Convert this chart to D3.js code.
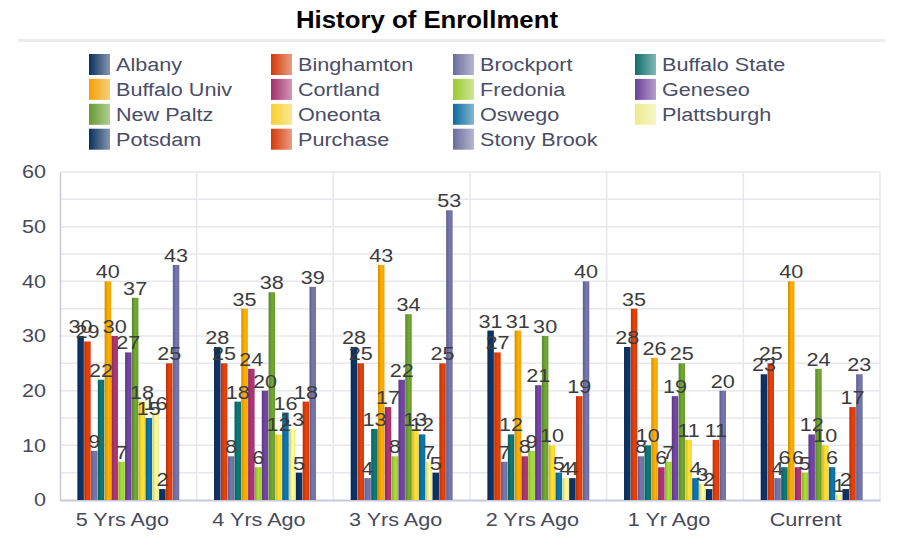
<!DOCTYPE html>
<html>
<head>
<meta charset="utf-8">
<script src="https://cdnjs.cloudflare.com/ajax/libs/d3/7.8.5/d3.min.js"></script>
<style>
  body { margin: 0; background: #fff; }
  svg { font-family: "Liberation Sans", Arial, sans-serif; }
</style>
</head>
<body>
<div class="chart"></div>
<script>
var periods = ["5 Yrs Ago", "4 Yrs Ago", "3 Yrs Ago", "2 Yrs Ago", "1 Yr Ago", "Current"];
var schools = ["Albany", "Binghamton", "Brockport", "Buffalo State", "Buffalo Univ", "Cortland",
  "Fredonia", "Geneseo", "New Paltz", "Oneonta", "Oswego", "Plattsburgh", "Potsdam", "Purchase", "Stony Brook"];
var colors = ["#0b2f5e", "#d43a08", "#6c6c9f", "#0b6f6b", "#f5a000", "#a2306c",
  "#9acb2e", "#6a3f98", "#669a2e", "#f8cf2c", "#0a6d9e", "#eceb8c", "#0b2f5e", "#d43a08", "#6c6c9f"];

// one array per school, in period order
var albany      = [30, 28, 28, 31, 28, 23];
var binghamton  = [29, 25, 25, 27, 35, 25];
var brockport   = [9, 8, 4, 7, 8, 4];
var buffState   = [22, 18, 13, 12, 10, 6];
var buffUniv    = [40, 35, 43, 31, 26, 40];
var cortland    = [30, 24, 17, 8, 6, 6];
var fredonia    = [7, 6, 8, 9, 7, 5];
var geneseo     = [27, 20, 22, 21, 19, 12];
var newPaltz    = [37, 38, 34, 30, 25, 24];
var oneonta     = [18, 12, 13, 10, 11, 10];
var oswego      = [15, 16, 12, 5, 4, 6];
var plattsburgh = [16, 13, 7, 4, 3, 1];
var potsdam     = [2, 5, 5, 4, 2, 2];
var purchase    = [25, 18, 25, 19, 11, 17];
var stonyBrook  = [43, 39, 53, 40, 20, 23];

var yTicks = [0, 10, 20, 30, 40, 50, 60];

var seriesValues = [albany, binghamton, brockport, buffState, buffUniv, cortland, fredonia,
  geneseo, newPaltz, oneonta, oswego, plattsburgh, potsdam, purchase, stonyBrook];

var svgWidth = 901, svgHeight = 537;
var margin = {top: 172, right: 21, bottom: 37, left: 60};
var width = svgWidth - margin.left - margin.right;
var height = svgHeight - margin.top - margin.bottom;

// the reference text is a bit wider than plain Arial, so stretch it sideways
function stretch(sel, k) {
  sel.each(function() {
    var w = this.getComputedTextLength();
    d3.select(this).attr("textLength", w * k).attr("lengthAdjust", "spacingAndGlyphs");
  });
}

var svg = d3.select(".chart").append("svg")
  .attr("width", svgWidth)
  .attr("height", svgHeight);

var defs = svg.append("defs");
colors.forEach(function(c, i) {
  var base = d3.color(c);
  var bar = defs.append("linearGradient").attr("id", "bar" + i)
    .attr("x1", "0").attr("x2", "1").attr("y1", "0").attr("y2", "0");
  bar.append("stop").attr("offset", "0%").attr("stop-color", base.darker(0.4));
  bar.append("stop").attr("offset", "55%").attr("stop-color", base.brighter(0.3));
  bar.append("stop").attr("offset", "100%").attr("stop-color", base);
  var sw = defs.append("linearGradient").attr("id", "sw" + i)
    .attr("x1", "0").attr("x2", "1").attr("y1", "0").attr("y2", "0");
  sw.append("stop").attr("offset", "0%").attr("stop-color", base);
  sw.append("stop").attr("offset", "100%").attr("stop-color", d3.interpolateRgb(base, "#fff")(0.5));
});

// title
svg.append("text")
  .attr("x", 427).attr("y", 28)
  .attr("text-anchor", "middle")
  .attr("textLength", 262).attr("lengthAdjust", "spacingAndGlyphs")
  .style("font-size", "23px").style("font-weight", "bold").style("fill", "#000")
  .text("History of Enrollment");

svg.append("rect")
  .attr("x", 18).attr("y", 39).attr("width", 867).attr("height", 3)
  .attr("fill", "#ebebf0");

// legend
var legend = svg.append("g").attr("class", "legend");
schools.forEach(function(s, i) {
  var col = i % 4, row = Math.floor(i / 4);
  var g = legend.append("g")
    .attr("transform", `translate(${89 + col * 182}, ${54 + row * 24.9})`);
  g.append("rect").attr("width", 21).attr("height", 21).attr("fill", `url(#sw${i})`);
  g.append("text").attr("x", 27).attr("y", 17)
    .style("font-size", "18px").style("fill", "#4a4d66")
    .text(s)
    .call(stretch, 1.2);
});

var chartGroup = svg.append("g")
  .attr("transform", `translate(${margin.left}, ${margin.top})`);

var x0 = d3.scaleBand().domain(periods).range([0, width]).paddingInner(0).paddingOuter(0);
var x1 = d3.scaleBand().domain(schools).range([0, x0.bandwidth()]).paddingOuter(2.55).paddingInner(0.05);
var y = d3.scaleLinear().domain([0, 60]).range([height, 0]);

// grid
chartGroup.append("g").selectAll("line")
  .data(d3.range(5, 61, 5))
  .enter().append("line")
  .attr("x1", 0).attr("x2", width)
  .attr("y1", d => y(d)).attr("y2", d => y(d))
  .attr("stroke", "#e7e7ee").attr("stroke-width", 1.5);

chartGroup.append("g").selectAll("line")
  .data(periods.slice(1).concat(["end"]))
  .enter().append("line")
  .attr("x1", (d, i) => (i + 1) * x0.step()).attr("x2", (d, i) => (i + 1) * x0.step())
  .attr("y1", 0).attr("y2", height)
  .attr("stroke", "#e7e7ee").attr("stroke-width", 1.5);

// axes
var leftAxis = d3.axisLeft(y).tickValues(yTicks).tickSize(0).tickPadding(14);
var bottomAxis = d3.axisBottom(x0).tickSize(0).tickPadding(13);

chartGroup.append("g").call(leftAxis)
  .call(g => g.select(".domain").attr("stroke", "#c8c8dc").attr("stroke-width", 1.5))
  .selectAll("text")
  .style("font-size", "18px").style("fill", "#474a5a").style("font-family", "Liberation Sans, Arial, sans-serif")
  .call(stretch, 1.2);

chartGroup.append("g").attr("transform", `translate(0, ${height})`).call(bottomAxis)
  .call(g => g.select(".domain").attr("stroke", "#c8c8dc").attr("stroke-width", 2))
  .selectAll("text")
  .attr("dx", -6)
  .style("font-size", "18px").style("fill", "#474a5a").style("font-family", "Liberation Sans, Arial, sans-serif")
  .call(stretch, 1.2);

// bars
var groups = chartGroup.selectAll(".period")
  .data(periods)
  .enter().append("g")
  .attr("class", "period")
  .attr("transform", d => `translate(${x0(d)}, 0)`);

groups.each(function(p, pi) {
  var g = d3.select(this);
  var rows = schools.map((s, si) => ({school: s, idx: si, value: seriesValues[si][pi]}));
  g.selectAll("rect").data(rows).enter().append("rect")
    .attr("x", d => x1(d.school))
    .attr("y", d => y(d.value))
    .attr("width", x1.bandwidth())
    .attr("height", d => height - y(d.value))
    .attr("fill", d => `url(#bar${d.idx})`);
  g.selectAll("text.val").data(rows).enter().append("text")
    .attr("class", "val")
    .attr("x", d => x1(d.school) + x1.bandwidth() / 2)
    .attr("y", d => y(d.value) - 3)
    .attr("text-anchor", "middle")
    .style("font-size", "18px").style("fill", "#3c3c3c")
    .text(d => d.value)
    .call(stretch, 1.2);
});
</script>
</body>
</html>
